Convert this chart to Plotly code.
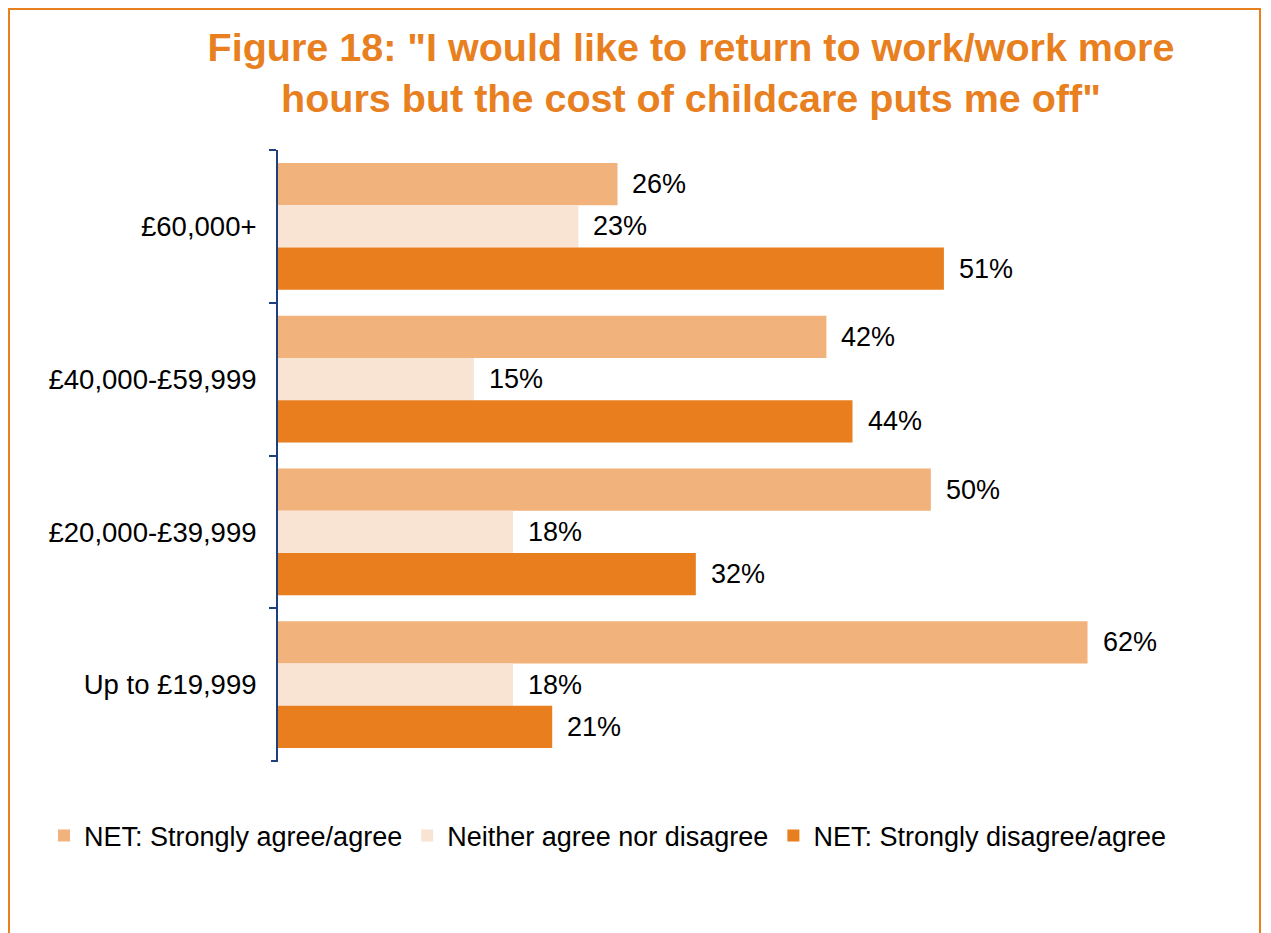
import plotly.graph_objects as go

# ===== data =====
income_bands = ["£60,000+", "£40,000-£59,999", "£20,000-£39,999", "Up to £19,999"]
series_names = ["NET: Strongly agree/agree", "Neither agree nor disagree", "NET: Strongly disagree/agree"]
agree = [26, 42, 50, 62]
neither = [23, 15, 18, 18]
disagree = [51, 44, 32, 21]

values = [agree, neither, disagree]
colors = ["#F2B27B", "#F9E4D3", "#E87E1E"]
ORANGE = "#E8801F"
NAVY = "#203F7E"
FONT = "Liberation Sans, Arial, sans-serif"

# ===== geometry (px) =====
# the page body adds an 8px margin, so everything is laid out 8px up/left
OFF = 8
W, H = 1271, 933
L, T = 278 - OFF, 150 - OFF
R, B = W - (1192 - OFF), H - (761 - OFF)
pw, ph = W - L - R, H - T - B
bargap = 0.17
bar_px = ph / len(income_bands) * (1 - bargap) / 3


def px_x(p):
    # screen px -> paper x
    return (p - OFF - L) / pw


def px_y(p):
    # screen px -> paper y
    return (H - B - (p - OFF)) / ph


fig = go.Figure()
for name, vals, col in zip(series_names, values, colors):
    fig.add_trace(go.Bar(
        y=income_bands,
        x=vals,
        orientation="h",
        name=name,
        marker=dict(color=col, line=dict(width=0)),
        hoverinfo="skip",
    ))

# data labels
for i, vals in enumerate(values):
    for cat, v in zip(income_bands, vals):
        fig.add_annotation(
            x=v, y=cat, text=f"{v}%",
            xanchor="left", yanchor="middle",
            xshift=13, yshift=(1 - i) * bar_px,
            showarrow=False,
            font=dict(family=FONT, size=27, color="#000000"),
        )

# orange frame around the chart (kept inside the visible page area)
fig.add_shape(
    type="rect", xref="paper", yref="paper",
    x0=px_x(OFF + 1), x1=px_x(1260), y0=px_y(980), y1=px_y(OFF + 1),
    line=dict(color=ORANGE, width=2), fillcolor="rgba(0,0,0,0)",
    layer="below",
)
# closing tick at the bottom of the category axis
fig.add_shape(
    type="line", xref="paper", yref="paper",
    x0=px_x(271), x1=0, y0=0, y1=0,
    line=dict(color=NAVY, width=2),
)

fig.update_layout(
    width=W, height=H,
    margin=dict(l=L, r=R, t=T, b=B),
    paper_bgcolor="white", plot_bgcolor="white",
    barmode="group", bargap=bargap, bargroupgap=0,
    font=dict(family=FONT, size=27, color="#000000"),
    title=dict(
        text='<b>Figure 18: "I would like to return to work/work more<br>hours but the cost of childcare puts me off"</b>',
        x=(691 - OFF) / W, xanchor="center",
        y=1 - 53 / H, yanchor="top", yref="container",
        font=dict(family=FONT, size=39.5, color=ORANGE),
    ),
    xaxis=dict(range=[0, 70], visible=False, showgrid=False, zeroline=False),
    yaxis=dict(
        autorange="reversed",
        showline=True, linecolor=NAVY, linewidth=2,
        ticks="outside", tickson="boundaries", ticklen=7, tickwidth=2, tickcolor=NAVY,
        showgrid=False, zeroline=False,
        ticklabelstandoff=14,
        tickfont=dict(family=FONT, size=27.5, color="#000000"),
    ),
    legend=dict(
        orientation="h",
        x=px_x(44), xanchor="left",
        y=px_y(836), yanchor="middle",
        font=dict(family=FONT, size=27, color="#000000"),
        bgcolor="rgba(0,0,0,0)",
        itemclick=False, itemdoubleclick=False,
    ),
    showlegend=True,
)

fig.write_html("out.html")
